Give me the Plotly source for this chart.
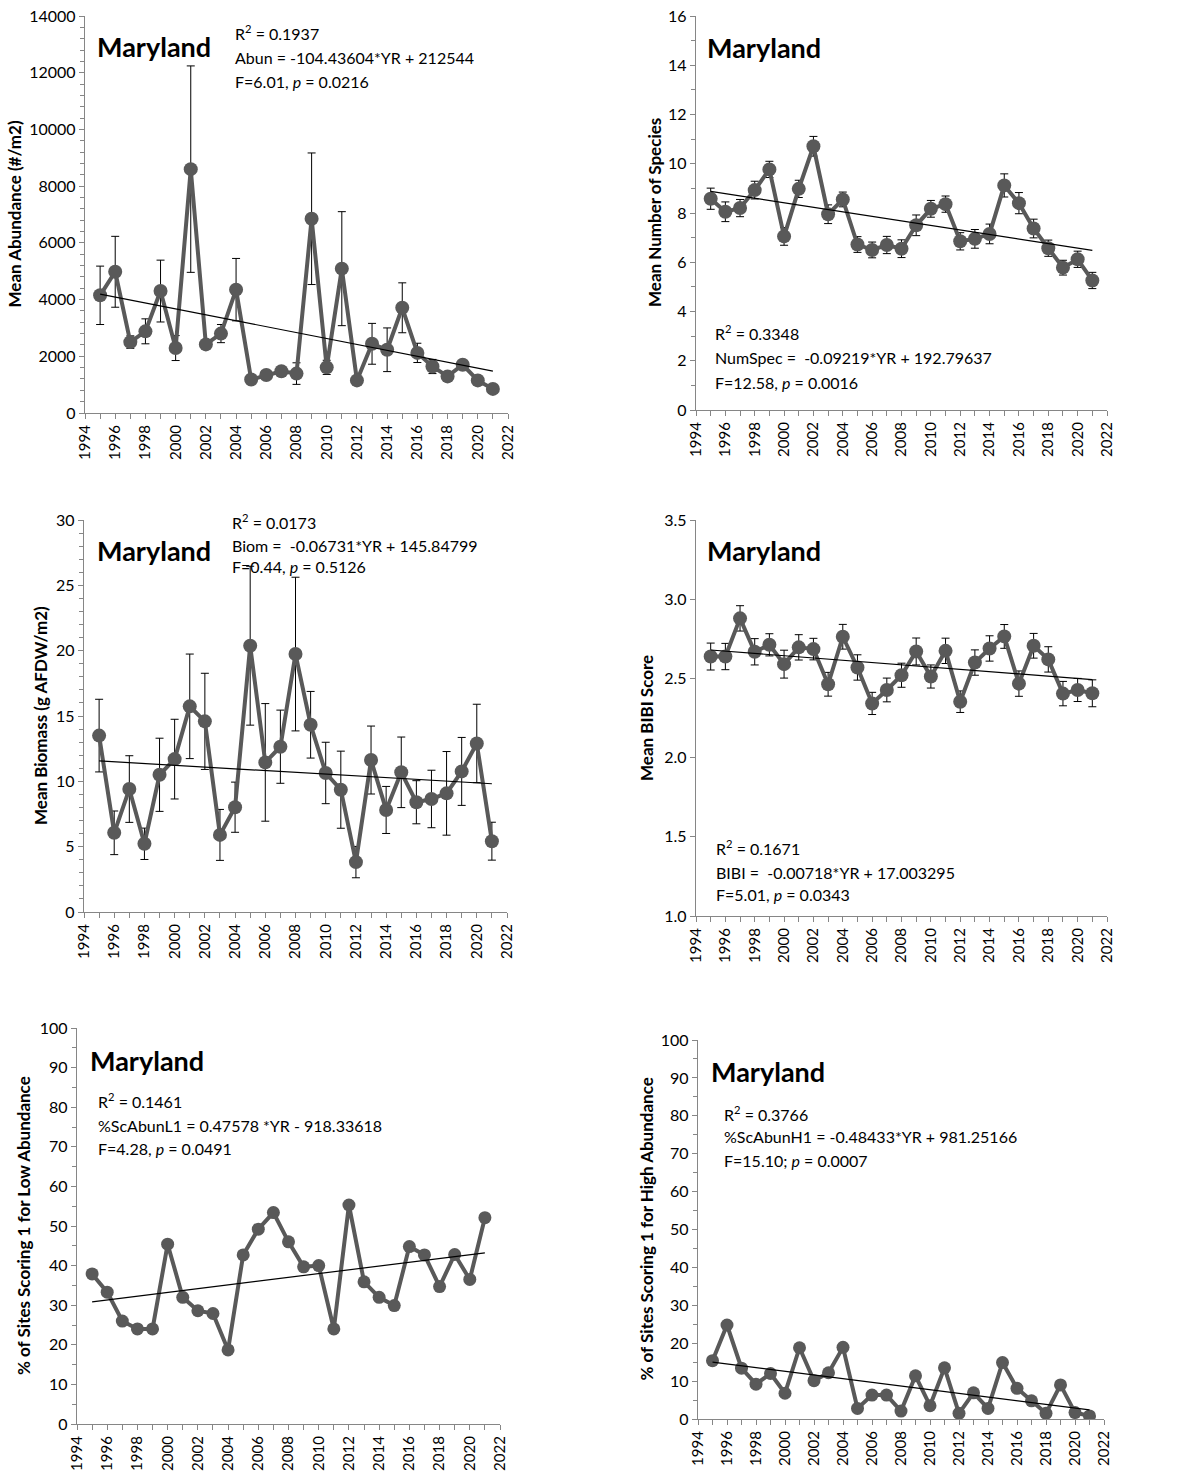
import plotly.graph_objects as go

W, H = 1195, 1471
FONT = "Lato"
GRAY = "#595959"
AXIS = "#868686"

years = list(range(1995, 2022))

# Mean abundance (#/m2) and standard errors
abun = [4150, 4980, 2500, 2880, 4300, 2290, 8600, 2420, 2800, 4350, 1180, 1340, 1470,
        1390, 6850, 1610, 5090, 1150, 2440, 2230, 3710, 2120, 1640, 1290, 1700, 1150, 850]
abun_se = [1030, 1250, 220, 440, 1090, 440, 3640, 150, 320, 1100, 120, 120, 120,
           380, 2320, 250, 2010, 120, 720, 770, 880, 340, 250, 120, 120, 120, 100]

# Mean number of species and standard errors
nspec = [8.58, 8.05, 8.20, 8.93, 9.77, 7.05, 8.98, 10.71, 7.95, 8.55, 6.72, 6.50, 6.70,
         6.55, 7.50, 8.17, 8.36, 6.85, 6.95, 7.15, 9.12, 8.40, 7.37, 6.57, 5.78, 6.12, 5.26]
nspec_se = [0.43, 0.40, 0.35, 0.36, 0.33, 0.36, 0.35, 0.40, 0.38, 0.30, 0.32, 0.32, 0.35,
            0.36, 0.42, 0.34, 0.33, 0.35, 0.38, 0.40, 0.47, 0.43, 0.38, 0.33, 0.30, 0.33, 0.33]

# Mean biomass (g AFDW/m2) and standard errors
biom = [13.5, 6.06, 9.41, 5.22, 10.5, 11.7, 15.74, 14.59, 5.9, 8.02, 20.38, 11.45, 12.65,
        19.74, 14.33, 10.64, 9.36, 3.82, 11.63, 7.81, 10.69, 8.4, 8.65, 9.08, 10.76, 12.9, 5.42]
biom_se = [2.78, 1.67, 2.55, 1.2, 2.8, 3.05, 4.0, 3.68, 1.95, 1.92, 6.08, 4.5, 2.8,
           5.88, 2.55, 2.35, 2.95, 1.2, 2.6, 1.8, 2.7, 1.65, 2.2, 3.2, 2.6, 3.0, 1.45]

# Mean B-IBI score and standard errors
bibi = [2.638, 2.638, 2.879, 2.668, 2.712, 2.59, 2.696, 2.685, 2.463, 2.763, 2.569, 2.342, 2.427,
        2.52, 2.67, 2.512, 2.674, 2.353, 2.6, 2.689, 2.765, 2.467, 2.706, 2.62, 2.404, 2.427, 2.406]
bibi_se = [0.085, 0.083, 0.08, 0.083, 0.07, 0.088, 0.08, 0.068, 0.075, 0.078, 0.08, 0.07, 0.075,
           0.076, 0.085, 0.073, 0.08, 0.068, 0.08, 0.08, 0.075, 0.08, 0.078, 0.08, 0.077, 0.073, 0.085]

# % of sites scoring 1 for low abundance
low_ab = [37.9, 33.3, 26.0, 24.0, 24.0, 45.4, 32.0, 28.6, 27.9, 18.7, 42.7, 49.2, 53.4,
          46.0, 39.7, 40.0, 24.0, 55.3, 35.9, 32.0, 29.9, 44.8, 42.7, 34.7, 42.8, 36.5, 52.1]

# % of sites scoring 1 for high abundance
high_ab = [15.4, 24.8, 13.4, 9.2, 12.0, 6.8, 18.8, 10.1, 12.2, 18.9, 2.8, 6.3, 6.3,
           2.1, 11.4, 3.5, 13.5, 1.5, 6.9, 2.8, 14.9, 8.1, 4.8, 1.5, 9.0, 1.7, 0.8]

# Regression coefficients (slope, intercept) for each panel
trend_coefs = [(-104.43604, 212544), (-0.09219, 192.79637), (-0.06731, 145.84799),
               (-0.00718, 17.003295), (0.47578, -918.33618), (-0.48433, 981.25166)]

y_titles = ["Mean Abundance (#/m2)", "Mean Number of Species", "Mean Biomass (g AFDW/m2)",
            "Mean BIBI Score", "% of Sites Scoring 1 for Low Abundance",
            "% of Sites Scoring 1 for High Abundance"]

stat_lines = [
    ["R<sup>2</sup> = 0.1937", "Abun = -104.43604*YR + 212544", "F=6.01, <i>p</i> = 0.0216"],
    ["R<sup>2</sup> = 0.3348", "NumSpec =  -0.09219*YR + 192.79637", "F=12.58, <i>p</i> = 0.0016"],
    ["R<sup>2</sup> = 0.0173", "Biom =  -0.06731*YR + 145.84799", "F=0.44, <i>p</i> = 0.5126"],
    ["R<sup>2</sup> = 0.1671", "BIBI =  -0.00718*YR + 17.003295", "F=5.01, <i>p</i> = 0.0343"],
    ["R<sup>2</sup> = 0.1461", "%ScAbunL1 = 0.47578 *YR - 918.33618", "F=4.28, <i>p</i> = 0.0491"],
    ["R<sup>2</sup> = 0.3766", "%ScAbunH1 = -0.48433*YR + 981.25166", "F=15.10; <i>p</i> = 0.0007"],
]

series = [(abun, abun_se), (nspec, nspec_se), (biom, biom_se),
          (bibi, bibi_se), (low_ab, None), (high_ab, None)]

# Layout of each panel in pixels: plot box (x0, x1, y0, y1), y range, tick steps
panels = [
    dict(box=(85, 508, 16, 413), yr=(0, 14000), dt=2000, mdt=400, fmt="d",
         title_x=14, name=(95, 46), stats=(233, [33, 58, 82])),
    dict(box=(696, 1107, 16, 410), yr=(0, 16), dt=2, mdt=1, fmt="d",
         title_x=654, name=(705, 47), stats=(713, [332, 357, 382])),
    dict(box=(84, 507, 520, 912), yr=(0, 30), dt=5, mdt=1, fmt="d",
         title_x=40, name=(95, 550), stats=(230, [521, 545, 566])),
    dict(box=(696, 1107, 520, 916), yr=(1.0, 3.5), dt=0.5, mdt=None, fmt=".1f",
         title_x=647, name=(705, 550), stats=(714, [847, 872, 895])),
    dict(box=(77, 500, 1028, 1424), yr=(0, 100), dt=10, mdt=5, fmt="d",
         title_x=23, name=(88, 1060), stats=(96, [1100, 1125, 1148])),
    dict(box=(698, 1104, 1040, 1419), yr=(0, 100), dt=10, mdt=5, fmt="d",
         title_x=646, name=(709, 1071), stats=(722, [1113, 1136, 1160])),
]


def fx(px):
    return px / W


def fy(py):
    return 1 - py / H


fig = go.Figure()
layout = {}
annotations = []

for i, (p, (vals, errs), (slope, icpt)) in enumerate(zip(panels, series, trend_coefs), start=1):
    xa = "x" if i == 1 else f"x{i}"
    ya = "y" if i == 1 else f"y{i}"
    x0, x1, y0, y1 = p["box"]

    scatter = dict(x=years, y=vals, mode="lines+markers", xaxis=xa, yaxis=ya,
                   line=dict(color=GRAY, width=4),
                   marker=dict(color=GRAY, size=14 if errs is not None else 13),
                   showlegend=False, hoverinfo="x+y")
    if errs is not None:
        scatter["error_y"] = dict(type="data", array=errs, visible=True,
                                  color="black", thickness=1, width=4)
    fig.add_trace(go.Scatter(**scatter))

    tx = [years[0], years[-1]]
    fig.add_trace(go.Scatter(x=tx, y=[slope * t + icpt for t in tx], mode="lines",
                             xaxis=xa, yaxis=ya, line=dict(color="black", width=1.2),
                             showlegend=False, hoverinfo="skip"))

    layout["xaxis" if i == 1 else f"xaxis{i}"] = dict(
        domain=[fx(x0), fx(x1)], anchor=ya, range=[1994, 2022], automargin=False,
        tick0=1994, dtick=2, tickangle=-90, ticks="outside", ticklen=5,
        tickcolor=AXIS, showline=True, linecolor=AXIS, linewidth=1.3,
        showgrid=False, zeroline=False,
        tickfont=dict(family=FONT, size=15, color="#000000"),
        minor=dict(dtick=1, tick0=1994, ticks="outside", ticklen=5, tickcolor=AXIS,
                   showgrid=False),
    )
    yaxis = dict(
        domain=[fy(y1), fy(y0)], anchor=xa, range=list(p["yr"]), automargin=False,
        dtick=p["dt"], tick0=p["yr"][0], ticks="outside", ticklen=5, tickcolor=AXIS,
        showline=True, linecolor=AXIS, linewidth=1.3, showgrid=False, zeroline=False,
        tickformat=p["fmt"], tickfont=dict(family=FONT, size=16, color="#000000"),
    )
    if p["mdt"]:
        yaxis["minor"] = dict(dtick=p["mdt"], tick0=p["yr"][0], ticks="outside",
                              ticklen=4, tickcolor=AXIS, showgrid=False)
    layout["yaxis" if i == 1 else f"yaxis{i}"] = yaxis

    # axis title
    annotations.append(dict(
        text=f"<b>{y_titles[i - 1]}</b>", xref="paper", yref="paper",
        x=fx(p["title_x"]), y=fy((y0 + y1) / 2), textangle=-90, showarrow=False,
        xanchor="center", yanchor="middle",
        font=dict(family=FONT, size=17, color="#000000")))

    # panel label
    nx, ny = p["name"]
    annotations.append(dict(
        text="<b>Maryland</b>", xref="paper", yref="paper", x=fx(nx), y=fy(ny),
        xanchor="left", yanchor="middle", showarrow=False,
        font=dict(family=FONT, size=27, color="#000000")))

    # regression statistics
    sx, sys_ = p["stats"]
    for line, ly in zip(stat_lines[i - 1], sys_):
        annotations.append(dict(
            text=line, xref="paper", yref="paper", x=fx(sx), y=fy(ly),
            xanchor="left", yanchor="middle", showarrow=False,
            font=dict(family=FONT, size=16, color="#000000")))

fig.update_layout(
    width=W, height=H,
    margin=dict(l=0, r=0, t=0, b=0, pad=0, autoexpand=False),
    paper_bgcolor="white", plot_bgcolor="white",
    annotations=annotations, **layout,
)

fig.write_html("out.html", post_script="document.body.style.margin='0px';")
